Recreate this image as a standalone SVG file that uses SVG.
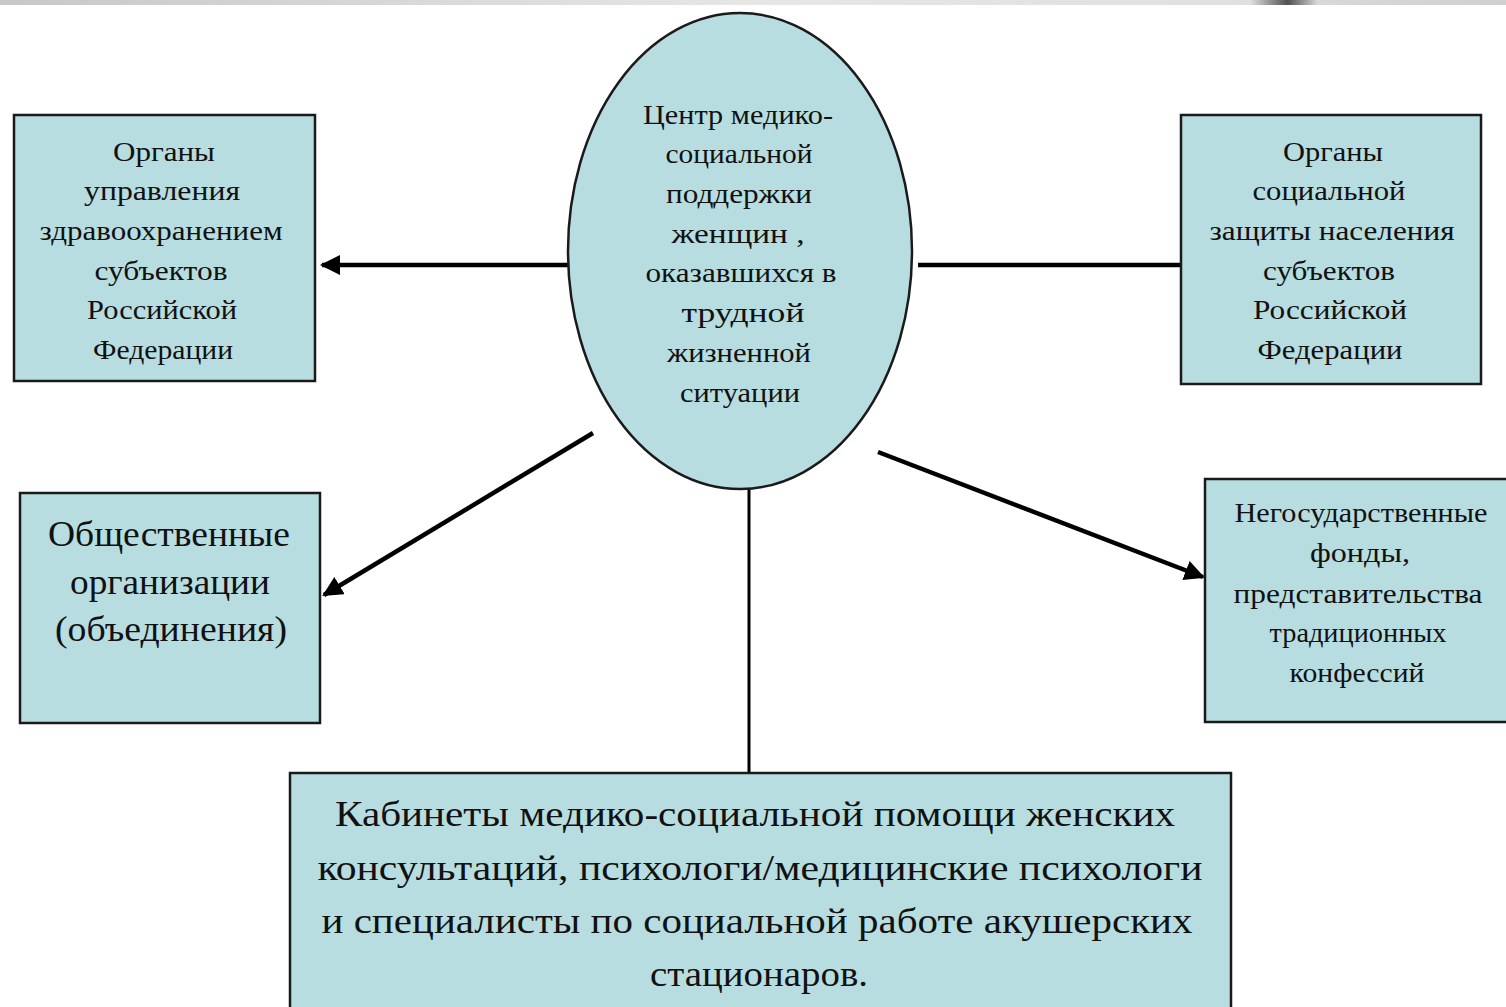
<svg xmlns="http://www.w3.org/2000/svg" width="1506" height="1007" viewBox="0 0 1506 1007">
<defs>
<linearGradient id="topbar" x1="0" y1="0" x2="1" y2="0">
<stop offset="0" stop-color="#c8c8c8"/><stop offset="0.5" stop-color="#e6e6e6"/><stop offset="0.83" stop-color="#e0e0e0"/><stop offset="0.855" stop-color="#505050"/><stop offset="0.875" stop-color="#d8d8d8"/><stop offset="1" stop-color="#d0d0d0"/>
</linearGradient>
<marker id="ah" viewBox="0 0 10 10" refX="9" refY="5" markerWidth="4.5" markerHeight="4.5" orient="auto" markerUnits="strokeWidth">
<path d="M0,0 L10,5 L0,10 z" fill="#000"/>
</marker>
<style>
.box{fill:#b7dde0;stroke:#1a1a1a;stroke-width:2.5}
.t{font-family:"Liberation Serif","Times New Roman",serif;fill:#111;text-anchor:middle}
.s{font-size:28px}
.m{font-size:36px}
.c{stroke:#000;stroke-width:4.5;fill:none}
</style>
</defs>
<rect x="0" y="0" width="1506" height="1007" fill="#fff"/>
<rect x="0" y="0" width="1506" height="5" fill="url(#topbar)"/>

<g id="connectors">
<line class="c" x1="568" y1="265" x2="322" y2="265" marker-end="url(#ah)"/>
<line class="c" x1="918" y1="265" x2="1181" y2="265"/>
<line class="c" x1="593" y1="433" x2="324" y2="595" marker-end="url(#ah)"/>
<line class="c" x1="878" y1="452" x2="1203" y2="577" marker-end="url(#ah)"/>
<line class="c" x1="749" y1="487" x2="749" y2="773" style="stroke-width:3"/>
</g>

<g id="center">
<ellipse cx="740" cy="251" rx="172" ry="238" fill="#b7dde0" stroke="#1a1a1a" stroke-width="2.5"/>
<g class="t s" font-family="Liberation Serif, serif">
<text x="738" y="124" textLength="190" lengthAdjust="spacingAndGlyphs">Центр медико-</text>
<text x="739" y="163" textLength="147" lengthAdjust="spacingAndGlyphs">социальной</text>
<text x="739" y="203" textLength="146" lengthAdjust="spacingAndGlyphs">поддержки</text>
<text x="738" y="243" textLength="133" lengthAdjust="spacingAndGlyphs">женщин ,</text>
<text x="741" y="282" textLength="191" lengthAdjust="spacingAndGlyphs">оказавшихся в</text>
<text x="743" y="322" textLength="123" lengthAdjust="spacingAndGlyphs">трудной</text>
<text x="739" y="362" textLength="144" lengthAdjust="spacingAndGlyphs">жизненной</text>
<text x="740" y="402" textLength="120" lengthAdjust="spacingAndGlyphs">ситуации</text>
</g>
</g>

<g id="health">
<rect class="box" x="14" y="115" width="301" height="266"/>
<g class="t s" font-family="Liberation Serif, serif">
<text x="164" y="161" textLength="102" lengthAdjust="spacingAndGlyphs">Органы</text>
<text x="162" y="200" textLength="156" lengthAdjust="spacingAndGlyphs">управления</text>
<text x="161" y="240" textLength="243" lengthAdjust="spacingAndGlyphs">здравоохранением</text>
<text x="161" y="280" textLength="133" lengthAdjust="spacingAndGlyphs">субъектов</text>
<text x="162" y="319" textLength="150" lengthAdjust="spacingAndGlyphs">Российской</text>
<text x="163" y="359" textLength="140" lengthAdjust="spacingAndGlyphs">Федерации</text>
</g>
</g>

<g id="social">
<rect class="box" x="1181" y="115" width="300" height="269"/>
<g class="t s" font-family="Liberation Serif, serif">
<text x="1333" y="161" textLength="100" lengthAdjust="spacingAndGlyphs">Органы</text>
<text x="1329" y="200" textLength="153" lengthAdjust="spacingAndGlyphs">социальной</text>
<text x="1332" y="240" textLength="245" lengthAdjust="spacingAndGlyphs">защиты населения</text>
<text x="1329" y="280" textLength="132" lengthAdjust="spacingAndGlyphs">субъектов</text>
<text x="1330" y="319" textLength="154" lengthAdjust="spacingAndGlyphs">Российской</text>
<text x="1330" y="359" textLength="145" lengthAdjust="spacingAndGlyphs">Федерации</text>
</g>
</g>

<g id="public">
<rect class="box" x="20" y="493" width="300" height="230"/>
<g class="t m" font-family="Liberation Serif, serif">
<text x="169" y="546" textLength="242" lengthAdjust="spacingAndGlyphs">Общественные</text>
<text x="170" y="594" textLength="200" lengthAdjust="spacingAndGlyphs">организации</text>
<text x="171" y="641" textLength="232" lengthAdjust="spacingAndGlyphs">(объединения)</text>
</g>
</g>

<g id="funds">
<rect class="box" x="1205" y="479" width="303" height="243"/>
<g class="t s" font-family="Liberation Serif, serif">
<text x="1361" y="522" textLength="253" lengthAdjust="spacingAndGlyphs">Негосударственные</text>
<text x="1360" y="562" textLength="100" lengthAdjust="spacingAndGlyphs">фонды,</text>
<text x="1358" y="603" textLength="249" lengthAdjust="spacingAndGlyphs">представительства</text>
<text x="1358" y="642" textLength="177" lengthAdjust="spacingAndGlyphs">традиционных</text>
<text x="1357" y="682" textLength="135" lengthAdjust="spacingAndGlyphs">конфессий</text>
</g>
</g>

<g id="cabinets">
<rect class="box" x="290" y="773" width="941" height="236"/>
<g class="t m" font-family="Liberation Serif, serif">
<text x="755" y="826" textLength="840" lengthAdjust="spacingAndGlyphs">Кабинеты медико-социальной помощи женских</text>
<text x="760" y="880" textLength="885" lengthAdjust="spacingAndGlyphs">консультаций, психологи/медицинские психологи</text>
<text x="757" y="933" textLength="871" lengthAdjust="spacingAndGlyphs">и специалисты по социальной работе акушерских</text>
<text x="759" y="986" textLength="218" lengthAdjust="spacingAndGlyphs">стационаров.</text>
</g>
</g>
</svg>
